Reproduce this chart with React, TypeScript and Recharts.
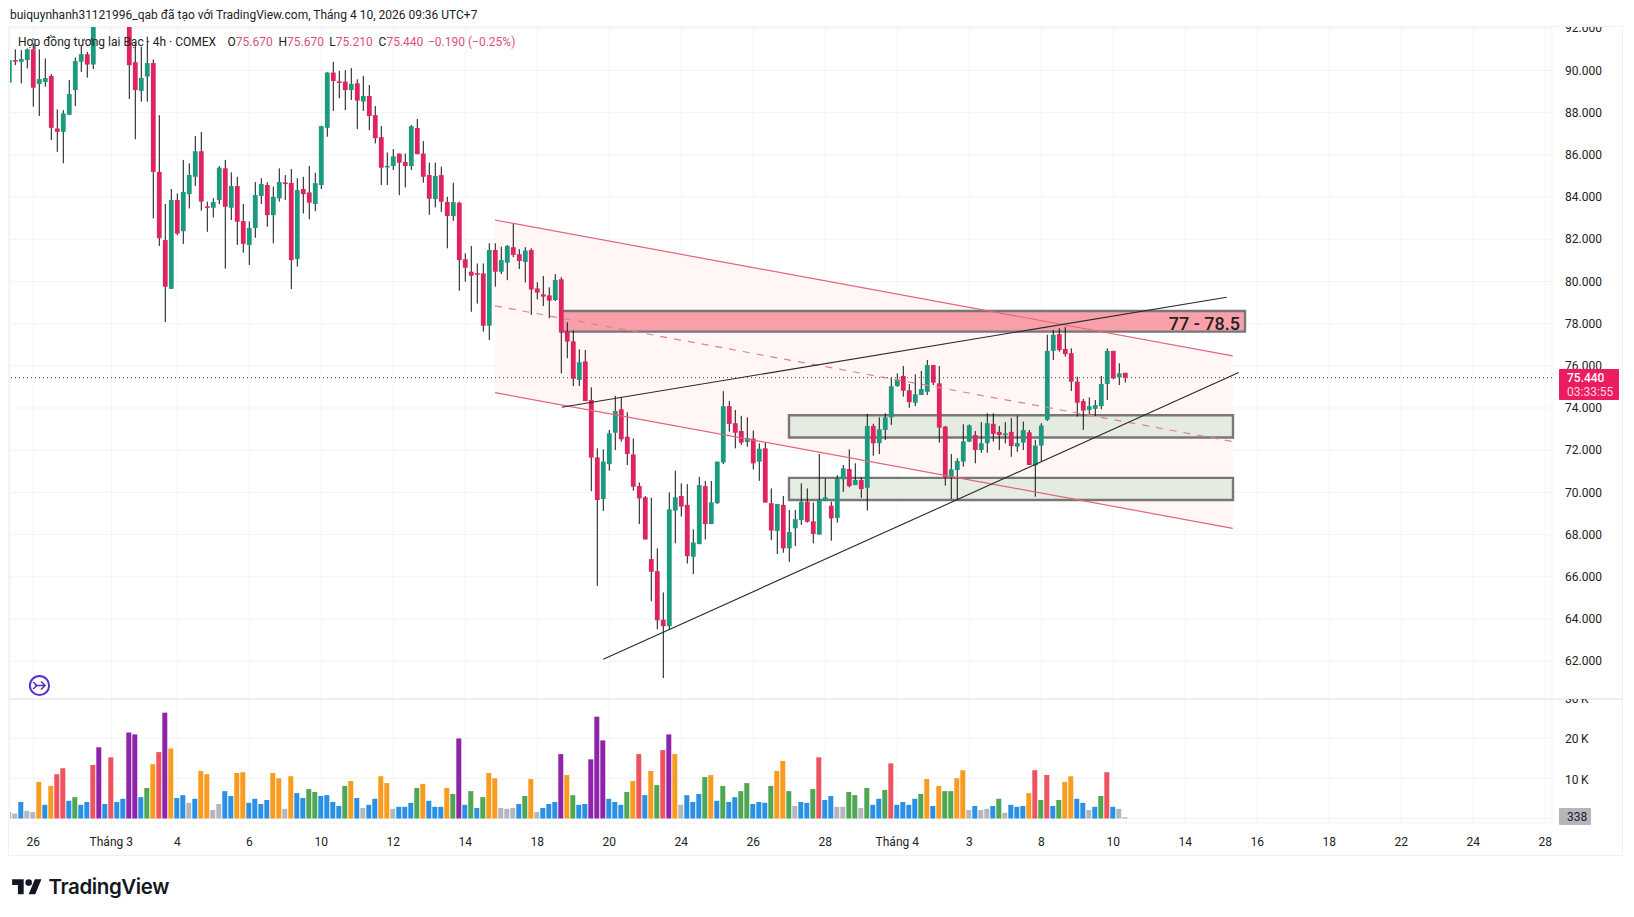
import React from 'react';
import { ComposedChart, Bar, Area, XAxis, YAxis, CartesianGrid, ReferenceLine, ReferenceArea, Cell } from 'recharts';

const opens = [89.42,90.49,90.41,90.49,91.00,89.36,89.45,89.74,87.25,87.09,87.90,89.07,90.41,90.77,90.28,92.52,93.12,93.72,93.32,92.82,
92.72,90.39,89.03,89.71,90.35,85.19,81.96,79.65,83.86,82.38,84.14,84.96,86.17,83.56,83.49,83.86,85.36,83.49,84.52,82.86,
81.73,82.53,84.05,84.57,83.14,83.94,84.69,84.67,81.06,84.38,84.22,83.67,84.57,87.28,89.90,89.48,89.47,89.07,89.39,88.52,
88.79,87.88,86.84,85.46,85.47,86.06,85.66,85.47,87.27,86.06,85.04,83.90,85.04,83.76,83.10,83.73,81.05,80.46,80.39,80.38,
77.90,81.49,80.46,80.89,81.62,81.29,80.92,81.49,79.67,79.39,79.34,79.12,80.10,77.62,77.16,75.33,76.21,74.38,71.66,69.69,
71.34,72.83,73.94,72.64,71.80,70.30,69.77,66.84,66.27,63.97,63.66,69.14,69.83,69.41,66.95,67.55,70.30,68.50,69.49,71.42,
74.09,73.28,72.91,72.39,72.55,71.46,72.09,69.49,68.17,69.41,67.35,68.30,68.69,69.56,68.63,68.00,69.61,69.37,68.79,70.62,
71.11,70.35,70.59,70.22,73.15,72.33,72.96,73.56,75.04,75.52,74.84,74.25,74.62,74.77,76.04,75.17,73.12,70.74,71.06,71.46,
72.41,72.72,72.01,72.33,73.25,72.87,72.71,72.87,72.17,72.36,72.85,71.28,72.22,73.44,76.71,77.50,76.80,76.60,75.25,74.33,
73.91,73.96,74.09,75.14,76.71,75.45,75.67];
const highs = [90.57,91.00,90.96,91.04,91.28,91.00,90.57,89.83,88.15,88.12,89.55,90.62,91.15,90.88,92.92,93.52,94.12,94.32,93.72,93.32,
93.12,91.28,91.12,91.60,90.52,87.88,83.67,84.38,84.17,85.76,85.60,86.89,87.08,83.78,83.94,85.47,85.76,85.17,84.96,83.67,
82.84,84.71,84.89,84.70,84.49,85.36,85.04,85.33,84.89,84.96,85.47,85.15,87.38,89.92,90.41,89.98,90.01,90.11,89.58,89.74,
89.31,88.31,87.36,86.11,86.27,86.06,86.06,87.41,87.70,86.65,85.63,85.63,85.44,84.01,84.68,83.78,81.33,81.68,80.85,80.85,
81.81,81.81,81.65,81.73,82.75,81.53,81.62,81.57,79.96,80.26,79.72,80.35,80.20,78.06,77.67,76.78,76.75,74.98,72.09,72.04,
72.96,74.58,74.53,73.80,72.56,70.47,69.83,69.75,67.35,65.26,70.00,71.03,70.43,70.39,68.25,70.74,70.54,70.54,71.46,74.80,
74.33,73.91,73.63,73.56,72.93,72.33,72.36,70.19,69.45,69.83,69.17,69.17,70.43,70.19,69.52,71.82,70.66,69.56,70.81,71.30,
72.04,71.38,70.71,73.72,73.25,73.56,73.75,75.44,75.64,75.99,75.14,75.60,75.76,76.28,76.04,75.99,73.15,71.82,71.62,73.23,
73.22,72.91,73.33,73.75,73.75,73.15,73.33,73.52,73.64,73.36,72.96,72.49,73.28,77.47,77.70,77.78,77.83,76.83,75.49,74.43,
74.50,74.38,75.52,76.83,76.71,76.12,75.67];
const lows = [89.39,90.25,89.39,90.09,88.28,87.84,89.23,86.70,86.14,85.60,87.88,88.31,89.93,89.66,90.06,92.22,92.82,92.92,92.42,92.32,
88.65,86.74,88.52,88.52,82.99,81.68,78.08,79.65,82.19,81.78,83.46,84.52,83.35,82.35,83.03,83.67,80.60,82.91,81.73,81.36,
80.78,82.07,83.67,82.59,81.81,83.78,83.86,79.64,80.70,83.22,82.95,83.33,84.38,86.86,88.08,88.68,88.12,88.60,87.22,88.08,
87.17,86.54,84.57,84.57,85.28,84.09,84.46,85.28,86.03,84.68,83.16,83.51,83.30,81.57,82.87,79.56,79.99,78.56,78.95,77.62,
77.22,79.75,80.35,80.06,81.15,80.59,79.95,78.41,79.15,78.83,78.25,79.07,75.64,76.36,75.04,75.04,74.33,70.06,65.57,69.12,
71.03,72.01,72.41,71.30,70.08,68.50,67.77,64.84,63.51,61.20,63.50,67.59,68.85,66.63,66.13,67.55,67.77,68.50,69.45,71.34,
72.88,72.09,72.25,72.17,71.09,70.55,69.52,67.74,67.08,67.14,66.71,67.46,68.46,68.57,67.59,68.00,69.60,67.71,68.57,70.03,
70.24,70.35,69.74,69.14,71.74,71.82,72.49,73.20,75.01,74.54,74.01,74.09,74.62,74.62,75.09,72.36,70.32,69.69,69.65,71.22,
72.38,71.38,71.88,71.88,72.41,72.01,72.33,71.69,71.93,72.01,71.30,69.80,71.46,73.39,76.28,76.67,76.44,74.81,73.60,72.96,
73.72,73.63,73.94,74.38,75.36,75.09,75.21];
const closes = [90.49,90.47,90.54,91.00,89.18,89.59,89.64,87.28,87.09,87.96,88.88,90.44,90.77,90.28,92.52,93.12,93.72,93.32,92.82,92.72,
90.25,89.07,89.64,90.35,85.19,82.05,79.75,83.86,82.27,84.24,85.04,86.17,83.78,83.54,83.76,85.39,83.54,84.52,82.83,81.78,
82.53,84.09,84.62,83.14,84.01,84.71,84.67,81.01,84.33,84.14,83.73,84.66,87.36,89.90,89.50,89.46,89.07,89.36,88.57,88.79,
87.84,86.79,85.39,85.48,85.93,85.63,85.47,87.36,86.03,84.96,83.92,85.00,83.78,83.10,83.76,81.01,80.65,80.27,80.37,77.90,
81.49,80.46,81.01,81.68,81.26,80.97,81.46,79.62,79.47,79.28,79.09,80.07,77.58,77.15,75.39,76.17,74.33,71.65,69.64,71.46,
72.80,73.86,72.52,71.82,70.27,69.72,67.77,66.24,63.94,63.66,69.20,69.77,69.33,66.98,67.63,70.35,68.50,69.53,71.46,74.09,
73.25,72.83,72.36,72.58,71.38,72.07,69.52,68.19,69.45,67.35,68.12,68.73,69.55,68.61,68.03,69.64,69.77,68.77,70.65,71.14,
70.30,70.59,70.16,73.15,72.33,72.99,73.56,75.03,75.36,74.82,74.28,74.65,74.90,76.04,75.20,73.07,70.71,71.09,71.49,72.42,
73.18,72.01,72.33,73.28,72.77,72.72,72.80,72.20,72.34,72.96,71.30,72.22,73.17,76.71,77.47,76.75,76.56,75.25,74.25,73.88,
74.09,74.14,75.14,76.71,75.41,75.64,75.44];
const volumesK = [1.6,1.2,4.1,1.9,1.6,9.1,3.4,8.1,11.0,12.5,4.4,5.3,3.4,4.1,13.3,17.7,3.6,15.2,4.1,4.9,
21.4,20.9,5.3,7.6,13.5,16.5,26.3,17.4,5.1,5.8,3.9,4.9,11.8,11.0,2.1,3.6,6.8,5.6,11.3,11.5,
3.9,4.9,3.6,4.6,11.3,10.0,2.4,10.5,6.3,5.1,7.3,6.6,5.6,5.8,4.1,3.1,8.1,9.3,5.1,2.6,
3.4,4.9,10.5,8.8,2.4,2.9,2.9,3.9,7.6,8.6,4.4,2.9,2.9,7.6,6.1,19.9,3.4,6.8,2.6,5.3,
11.3,10.0,2.6,2.4,2.6,3.6,5.6,9.8,1.6,2.6,3.6,4.1,16.0,10.8,5.8,3.4,3.6,14.7,25.3,19.4,
4.9,4.1,3.4,6.6,9.3,16.0,5.8,11.8,8.3,17.0,20.9,16.0,3.4,5.8,4.1,6.1,10.3,10.8,4.4,8.1,
4.1,5.3,6.8,8.8,3.6,4.1,3.9,8.1,11.8,14.3,6.8,3.1,4.1,3.9,7.3,15.2,4.6,5.6,2.9,2.9,
6.6,5.8,2.6,7.6,3.4,4.9,7.1,13.7,3.4,4.1,3.4,4.9,6.1,9.8,3.1,8.1,6.8,6.8,10.0,12.0,
2.1,3.1,2.1,2.4,3.1,4.9,1.4,3.4,2.9,3.1,6.3,12.0,4.6,10.8,3.1,4.6,9.1,10.5,4.9,3.9,
2.1,2.9,5.6,11.5,2.9,2.4,0.338];
const volumeTiers = [
  'kkbkkoborr','bgbbrpbrbb','ppbgorpobb','kbookkbboo','bbbbookobb',
  'ggbbbbgobk','bbookbbbgo','bbbogpbgbg','ookkkbgokb','bbpogbbppp',
  'bbbgorbogr','pokbbbgobg','bbggbbbgoo','gkbbgrbbkk','ggkgbbgrbb',
  'bbgoboggoo','kbkkbgkbbb','orgrbgoobb','kbgrbkk',
].join('').split('');
const tierColors: Record<string, string> = { b: '#2a90e4', o: '#f89c1f', r: '#ef5360', p: '#8e24aa', g: '#4fa754', k: '#b4b6bd' };
const priceTicks = [62,64,66,68,70,72,74,76,78,80,82,84,86,88,90,92];
const volumeTicks = [0,10,20,30];
const timeTickBars = [4,17,28,40,52,64,76,88,100,112,124,136,148,160,172,184,196,208,220,232,244,256];
const timeTickLabels = ['26','Tháng 3','4','6','10','12','14','18','20','24','26','28','Tháng 4','3','8','10','14','16','18','22','24','28'];
const channelBand = [{ i: 80.95, band: [74.73, 82.91] }, { i: 203.9, band: [68.3, 76.47] }];
const channelTop = [{ x: 80.95, y: 82.91 }, { x: 203.9, y: 76.47 }];
const channelMid = [{ x: 80.95, y: 78.84 }, { x: 203.9, y: 72.41 }];
const channelLow = [{ x: 80.95, y: 74.73 }, { x: 203.9, y: 68.3 }];
const blackUpper = [{ x: 92.07, y: 74.04 }, { x: 202.9, y: 79.25 }];
const blackLower = [{ x: 99, y: 62.09 }, { x: 204.9, y: 75.68 }];
const zones = [
  { x1: 129.95, x2: 203.95, y1: 72.6, y2: 73.66 },
  { x1: 129.95, x2: 203.95, y1: 69.64, y2: 70.69 },
];
const resistance = { x1: 92.07, x2: 205.95, y1: 77.62, y2: 78.6, label: '77 - 78.5' };
const lastPrice = 75.44;
const xDomain: [number, number] = [0.117, 257.117];

const candleRows = opens.map((o, i) => ({ i, o, c: closes[i], range: [lows[i], highs[i]], v: volumesK[i], tier: volumeTiers[i] }));

const FONT = 'Roboto, sans-serif';
const GRID = '#f2f3f5';

function Candle(props: any) {
  const { x, y, width, height, payload } = props;
  const [lo, hi] = payload.range;
  const ppu = height / (hi - lo);
  const cx = x + width / 2;
  const top = y + (hi - Math.max(payload.o, payload.c)) * ppu;
  const bot = y + (hi - Math.min(payload.o, payload.c)) * ppu;
  const up = payload.c >= payload.o;
  return (
    <g>
      <line x1={cx} x2={cx} y1={y} y2={y + height} stroke="#111" strokeWidth={1} />
      <rect x={cx - 2.4} y={top} width={4.8} height={Math.max(bot - top, 1.6)} fill={up ? '#1c9a80' : '#e0245f'} />
    </g>
  );
}

const abs = (l: number, t: number, extra: React.CSSProperties = {}): React.CSSProperties => ({
  position: 'absolute', left: l, top: t, fontFamily: FONT, whiteSpace: 'nowrap', lineHeight: 1, ...extra,
});

export default function App() {
  const legendRed = '#d9517c';
  return (
    <div style={{ position: 'absolute', left: 0, top: 0, width: 1634, height: 917, background: '#fff', overflow: 'hidden' }}>
      <div style={{ position: 'absolute', left: 8, top: 26, width: 1615, height: 830, border: '1px solid #f0f1f4', boxSizing: 'border-box' }} />
      <div style={{ position: 'absolute', left: 8, top: 698, width: 1615, height: 2, background: '#eceef1' }} />

      <div style={{ position: 'absolute', left: 0, top: 27, width: 1634, height: 671, overflow: 'hidden' }}>
        <div style={{ position: 'absolute', left: 0, top: -20 }}>
          <ComposedChart width={1634} height={692} data={candleRows} margin={{ top: 13, right: 0, bottom: 0, left: 10 }}>
            <CartesianGrid stroke={GRID} strokeWidth={1} />
            <XAxis dataKey="i" type="number" scale="linear" domain={xDomain} ticks={timeTickBars} allowDataOverflow hide />
            <YAxis orientation="right" width={82} domain={[60.21, 92.39]} ticks={priceTicks} allowDataOverflow
              axisLine={false} tickLine={false} tickMargin={7} interval={0}
              tick={{ fontFamily: FONT, fontSize: 12, fill: '#222' }} tickFormatter={(v: number) => v.toFixed(3)} />
            <Area data={channelBand} dataKey="band" type="linear" stroke="none" fill="#fff6f5" fillOpacity={1} isAnimationActive={false} />
            <ReferenceLine segment={channelTop} stroke="#e0667a" strokeWidth={1.2} ifOverflow="visible" />
            <ReferenceLine segment={channelMid} stroke="#e28090" strokeWidth={1.2} strokeDasharray="7 7" ifOverflow="visible" />
            <ReferenceLine segment={channelLow} stroke="#e0667a" strokeWidth={1.2} ifOverflow="visible" />
            {zones.map((z, k) => (
              <ReferenceArea key={k} x1={z.x1} x2={z.x2} y1={z.y1} y2={z.y2} fill="#e0e8dc" fillOpacity={0.8} stroke="#777" strokeWidth={2.4} ifOverflow="visible" />
            ))}
            <ReferenceArea x1={resistance.x1} x2={resistance.x2} y1={resistance.y1} y2={resistance.y2} fill="#f78a96" fillOpacity={0.8} stroke="#777" strokeWidth={2.4} ifOverflow="visible"
              label={{ value: resistance.label, position: 'insideRight', fill: '#222', fontSize: 18, fontWeight: 500, fontFamily: FONT, dy: 2 }} />
            <ReferenceLine y={lastPrice} stroke="#5f3a46" strokeWidth={1} strokeDasharray="1 3" />
            <Bar dataKey="range" barSize={6} shape={Candle} isAnimationActive={false} />
            <ReferenceLine segment={blackUpper} stroke="#2a2a2a" strokeWidth={1.1} ifOverflow="visible" />
            <ReferenceLine segment={blackLower} stroke="#2a2a2a" strokeWidth={1.1} ifOverflow="visible" />
          </ComposedChart>
        </div>
      </div>

      <div style={{ position: 'absolute', left: 0, top: 699, width: 1634, height: 156, overflow: 'hidden' }}>
        <div style={{ position: 'absolute', left: 0, top: -9 }}>
          <ComposedChart width={1634} height={166} data={candleRows} margin={{ top: 0, right: 0, bottom: 0, left: 10 }}>
            <CartesianGrid stroke={GRID} strokeWidth={1} />
            <XAxis dataKey="i" type="number" scale="linear" domain={xDomain} ticks={timeTickBars} allowDataOverflow interval={0} height={33}
              axisLine={false} tickLine={false} tickMargin={8} tick={{ fontFamily: FONT, fontSize: 12, fill: '#222' }}
              tickFormatter={(v: number) => timeTickLabels[timeTickBars.indexOf(v)]} />
            <YAxis orientation="right" width={82} domain={[-1.118, 31.93]} ticks={volumeTicks} allowDataOverflow interval={0}
              axisLine={false} tickLine={false} tickMargin={7} tick={{ fontFamily: FONT, fontSize: 12, fill: '#222', dy: 1 }}
              tickFormatter={(v: number) => (v === 0 ? '' : `${v}\u2009K`)} />
            <Bar dataKey="v" barSize={5} isAnimationActive={false}>
              {candleRows.map((r) => <Cell key={r.i} fill={tierColors[r.tier]} />)}
            </Bar>
          </ComposedChart>
        </div>
      </div>

      <div style={abs(10, 9, { fontSize: 12, color: '#222' })}>buiquynhanh31121996_qab đã tạo với TradingView.com, Tháng 4 10, 2026 09:36 UTC+7</div>
      <div style={abs(18, 36, { fontSize: 12, color: '#222' })}>Hợp đồng tương lai Bạc · 4h · COMEX</div>
      <div style={abs(227.5, 36, { fontSize: 12, color: '#222' })}>O<span style={{ color: legendRed }}>75.670</span></div>
      <div style={abs(278.5, 36, { fontSize: 12, color: '#222' })}>H<span style={{ color: legendRed }}>75.670</span></div>
      <div style={abs(329.3, 36, { fontSize: 12, color: '#222' })}>L<span style={{ color: legendRed }}>75.210</span></div>
      <div style={abs(378.6, 36, { fontSize: 12, color: '#222' })}>C<span style={{ color: legendRed }}>75.440</span></div>
      <div style={abs(428, 36, { fontSize: 12, color: legendRed })}>−0.190 (−0.25%)</div>

      <div style={{ position: 'absolute', left: 1559, top: 369, width: 60, height: 31, background: '#ec1c60', borderRadius: 1 }} />
      <div style={abs(1567, 372, { fontSize: 12, color: '#fff', fontWeight: 500 })}>75.440</div>
      <div style={abs(1567, 386, { fontSize: 12, color: '#fbd3df' })}>03:33:55</div>

      <div style={{ position: 'absolute', left: 1559, top: 808, width: 32, height: 17, background: '#b4b6bd', borderRadius: 1 }} />
      <div style={abs(1567, 810.5, { fontSize: 12, color: '#222' })}>338</div>

      <svg style={{ position: 'absolute', left: 28, top: 674 }} width={23} height={23} viewBox="0 0 23 23">
        <circle cx={11.5} cy={11.5} r={9.6} fill="#fff" stroke="#5b30c8" strokeWidth={2} />
        <path d="M5 8l4 3.5L5 15M7 11.5h10M13 7.5l4 4-4 4" fill="none" stroke="#5b30c8" strokeWidth={1.6} />
      </svg>

      <svg style={{ position: 'absolute', left: 11.5, top: 875.7 }} width={30} height={19} viewBox="0 0 36 23">
        <path d="M14 22H7V11H0V4h14v18zM28 22h-8l7.5-18h8L28 22z" fill="#131722" />
        <circle cx={20} cy={8} r={4} fill="#131722" />
      </svg>
      <div style={abs(48.5, 876.5, { fontSize: 20.5, fontWeight: 600, color: '#131722', fontFamily: 'Inter, sans-serif', letterSpacing: -0.4 })}>TradingView</div>
    </div>
  );
}
